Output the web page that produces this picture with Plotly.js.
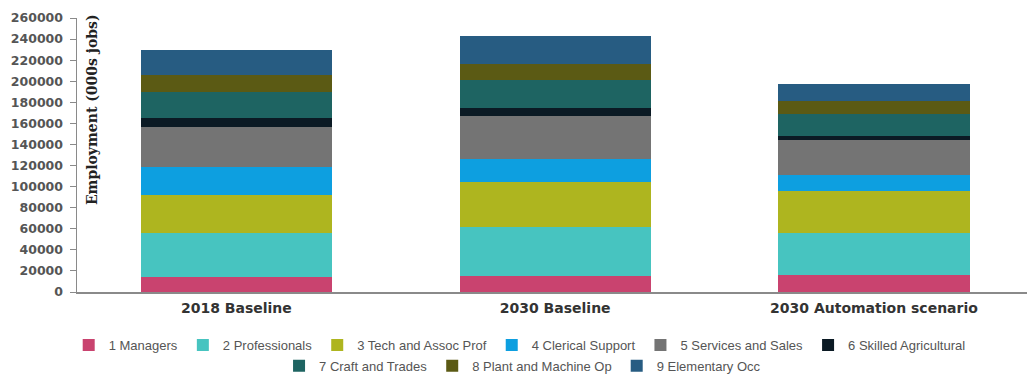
<!DOCTYPE html>
<html>
<head>
<meta charset="utf-8">
<script src="https://cdn.plot.ly/plotly-3.0.1.min.js"></script>
<style>
html,body{margin:0;padding:0;background:#fff;}
#chart{width:1027px;height:378px;}
</style>
</head>
<body>
<div id="chart"></div>
<script>
const categories = ["2018 Baseline", "2030 Baseline", "2030 Automation scenario"];
const seriesNames = ["1 Managers", "2 Professionals", "3 Tech and Assoc Prof", "4 Clerical Support",
  "5 Services and Sales", "6 Skilled Agricultural", "7 Craft and Trades", "8 Plant and Machine Op", "9 Elementary Occ"];
const managers      = [14000, 15500, 16000];
const professionals = [42000, 46000, 40000];
const techAssoc     = [36000, 42500, 39500];
const clerical      = [26500, 22000, 16000];
const services      = [38000, 41000, 32500];
const skilledAgri   = [8500, 7500, 4500];
const craftTrades   = [25000, 26500, 20000];
const plantMachine  = [16000, 15000, 12500];
const elementary    = [24000, 26500, 16000];
const yTickVals = [0,20000,40000,60000,80000,100000,120000,140000,160000,180000,200000,220000,240000,260000];

const seriesValues = [managers, professionals, techAssoc, clerical, services, skilledAgri, craftTrades, plantMachine, elementary];
const colors = ["#c9436f", "#47c4c0", "#aeb51f", "#0d9fe0", "#747474", "#0b1a24", "#1e6462", "#5b5a14", "#275c82"];

const traces = seriesValues.map((vals, i) => ({
  type: "bar",
  name: seriesNames[i],
  x: categories,
  y: vals,
  marker: {color: colors[i], line: {width: 0}},
  legend: i < 6 ? "legend" : "legend2",
  hoverinfo: "none"
}));

const legendCommon = {
  orientation: "h",
  xanchor: "center",
  yanchor: "middle",
  font: {family: "Liberation Sans, Arial, sans-serif", size: 13, color: "#555"},
  bgcolor: "rgba(0,0,0,0)",
  borderwidth: 0,
  traceorder: "normal",
  itemclick: false,
  itemdoubleclick: false
};

const layout = {
  width: 1027,
  height: 378,
  margin: {l: 77, r: 0, t: 18, b: 86, autoexpand: false},
  paper_bgcolor: "#fff",
  plot_bgcolor: "#fff",
  barmode: "stack",
  bargap: 0.4,
  showlegend: true,
  xaxis: {
    type: "category",
    range: [-0.5, 2.48],
    showline: true,
    linecolor: "#8a8a8a",
    linewidth: 1.5,
    ticks: "",
    ticklabelstandoff: 3,
    showgrid: false,
    zeroline: false,
    tickfont: {family: "DejaVu Sans, Verdana, sans-serif", size: 14, color: "#333", weight: "bold"}
  },
  yaxis: {
    range: [0, 260000],
    tickvals: yTickVals,
    ticktext: yTickVals.map(String),
    showline: true,
    linecolor: "#8a8a8a",
    linewidth: 1.5,
    ticks: "outside",
    ticklen: 6,
    ticklabelstandoff: 4,
    tickcolor: "#8a8a8a",
    showgrid: false,
    zeroline: false,
    tickfont: {family: "DejaVu Sans, Verdana, sans-serif", size: 12.5, color: "#555", weight: "bold"}
  },
  legend: Object.assign({}, legendCommon, {x: 0.466, y: -0.194}),
  legend2: Object.assign({}, legendCommon, {x: 0.469, y: -0.269}),
  annotations: [{
    text: "Employment (000s jobs)",
    xref: "paper", yref: "paper",
    x: 0.0158, y: 0.664,
    xanchor: "center", yanchor: "middle",
    textangle: -90,
    showarrow: false,
    font: {family: "DejaVu Serif, Georgia, serif", size: 14, color: "#222", weight: "bold"}
  }]
};

Plotly.newPlot("chart", traces, layout, {displayModeBar: false, staticPlot: true});
</script>
</body>
</html>
